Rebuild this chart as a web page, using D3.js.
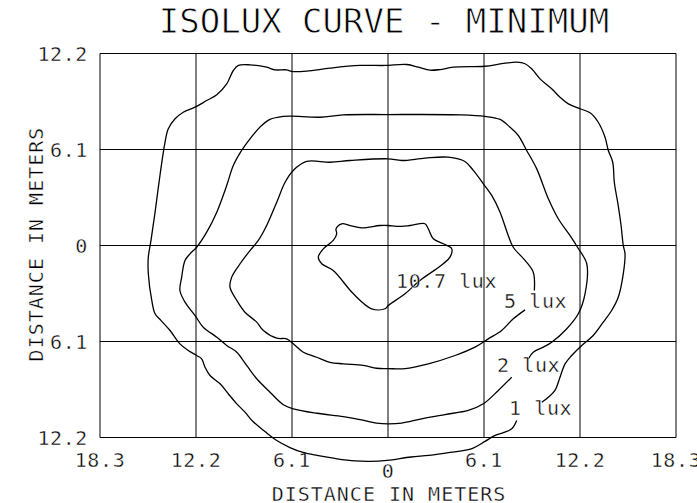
<!DOCTYPE html>
<html>
<head>
<meta charset="utf-8">
<script src="https://cdn.jsdelivr.net/npm/d3@7"></script>
<style>
  body { margin: 0; background: #ffffff; }
  /* thin white edge so the glyphs read as light as the CAD lettering */
  svg text { font-family: "DejaVu Sans Mono", monospace; fill: #000000; stroke: #ffffff; stroke-width: 0.4px; paint-order: fill; }
</style>
</head>
<body>
<div id="chart"></div>
<script>
'use strict';

// tick values (meters) and the labels printed under them
var xTicks = [-18.3, -12.2, -6.1, 0, 6.1, 12.2, 18.3];
var yTicks = [12.2, 6.1, 0, -6.1, -12.2];
var tickLabels = ['18.3', '12.2', '6.1', '0', '6.1', '12.2', '18.3'];
var yTickLabels = ['12.2', '6.1', '0', '6.1', '12.2'];

// isolux contours, [x, y] in meters
var lux1 = [
  [8.18,-11.12],[7.88,-11.63],[7.37,-11.88],[6.74,-12.10],[6.16,-12.45],[5.34,-12.90],[3.94,-13.15],
  [2.61,-13.34],[1.46,-13.44],[-0.06,-13.66],[-1.14,-13.72],[-2.10,-13.69],[-3.37,-13.53],[-4.51,-13.34],
  [-5.40,-13.15],[-6.23,-12.84],[-7.12,-12.36],[-7.82,-11.82],[-8.58,-11.18],[-9.09,-10.59],[-9.61,-10.06],
  [-10.15,-9.42],[-10.67,-8.79],[-11.31,-8.26],[-11.63,-7.73],[-11.84,-7.20],[-12.16,-6.99],[-12.69,-6.67],
  [-13.22,-6.25],[-13.85,-5.40],[-14.42,-4.77],[-14.80,-4.34],[-15.01,-3.49],[-15.23,-1.80],[-15.23,-0.74],
  [-15.06,0.32],[-14.80,2.12],[-14.49,4.45],[-14.17,6.56],[-13.96,7.42],[-13.53,8.05],[-13.01,8.47],
  [-12.26,8.79],[-11.52,9.21],[-10.88,9.58],[-10.25,10.27],[-9.83,11.12],[-9.51,11.44],[-8.77,11.48],
  [-7.71,11.33],[-7.18,11.16],[-6.44,11.16],[-6.12,11.06],[-5.17,11.08],[-3.69,11.27],[-1.78,11.44],
  [-0.19,11.44],[1.19,11.50],[1.93,11.33],[2.67,11.14],[3.30,11.18],[4.15,11.33],[6.16,11.39],
  [7.22,11.55],[8.18,11.65],[8.71,11.55],[9.13,11.23],[9.66,10.59],[10.40,9.96],[10.93,9.42],
  [11.46,9.00],[12.20,8.69],[12.84,8.43],[13.36,7.83],[13.79,6.88],[14.00,6.04],[14.28,5.29],
  [14.38,4.02],[14.63,2.54],[14.81,1.27],[14.95,0],[15.06,-0.53],[14.95,-1.80],[14.63,-3.29],
  [14.21,-4.13],[13.68,-4.87],[13.04,-5.72],[12.31,-6.35],[11.67,-6.99],[11.25,-7.52],[10.93,-8.37],
  [10.61,-9.21],[10.19,-9.64],[9.77,-9.96]
];

var lux2 = [
  [7.86,-8.37],[7.01,-9.21],[6.06,-10.06],[5.10,-10.48],[3.62,-10.74],[2.14,-11.01],[0.87,-11.29],
  [0,-11.34],[-0.72,-11.29],[-1.78,-11.06],[-2.84,-10.87],[-4.53,-10.66],[-6.02,-10.38],[-6.65,-10.12],
  [-7.50,-9.32],[-8.34,-8.47],[-8.98,-7.62],[-9.61,-6.78],[-10.25,-6.35],[-10.88,-5.83],[-11.74,-5.19],
  [-12.26,-4.45],[-12.90,-3.60],[-13.22,-2.86],[-13.11,-2.01],[-12.90,-0.95],[-12.58,-0.53],[-12.16,-0.11],
  [-11.52,0.85],[-10.88,2.12],[-10.25,3.81],[-9.83,5.08],[-9.30,6.04],[-8.77,6.78],[-8.03,7.62],
  [-7.50,8.01],[-6.65,8.20],[-6.12,8.22],[-4.32,8.15],[-2.84,8.30],[0,8.32],[4.68,8.30],[6.16,8.20],
  [7.12,8.01],[7.75,7.52],[8.28,6.99],[8.81,6.04],[9.45,4.87],[10.19,2.97],[10.82,1.70],[11.56,0.64],
  [12.09,-0.19],[12.63,-1.16],[12.52,-3.07],[12.09,-4.34],[11.36,-5.29],[10.40,-6.15],[9.87,-6.46],
  [9.23,-6.78],[8.91,-7.20]
];

var lux5 = [
  [8.71,-4.09],[7.96,-4.66],[7.22,-5.40],[6.37,-5.93],[5.53,-6.46],[4.26,-6.99],[2.56,-7.52],
  [1.08,-7.83],[0,-7.82],[-0.72,-7.80],[-1.57,-7.62],[-2.84,-7.52],[-3.69,-7.42],[-4.53,-7.10],
  [-5.38,-6.78],[-6.02,-6.25],[-6.44,-5.93],[-7.07,-5.89],[-7.92,-5.40],[-8.34,-4.87],[-9.09,-4.24],
  [-9.61,-3.49],[-10.04,-2.65],[-9.93,-2.01],[-9.40,-1.16],[-8.77,-0.32],[-8.24,0.32],[-7.71,1.27],
  [-7.07,2.75],[-6.54,4.02],[-6.02,4.77],[-5.17,5.34],[-3.69,5.29],[-2.41,5.40],[0,5.51],[0.87,5.40],
  [2.35,5.55],[3.83,5.61],[4.89,5.34],[5.42,4.77],[6.06,3.92],[6.59,3.18],[7.12,2.12],[7.64,0.64],
  [7.96,-0.11],[8.71,-0.95],[9.23,-1.70],[9.30,-2.86]
];

var lux107 = [
  [-0.19,-4.02],[-1.04,-4.02],[-2.20,-3.07],[-3.48,-1.59],[-4.21,-1.16],[-4.43,-0.74],[-4.11,-0.21],
  [-3.48,0.32],[-3.26,0.74],[-3.30,1.06],[-2.94,1.38],[-2.41,1.27],[-1.67,1.12],[-0.51,1.27],[0.02,1.27],
  [0.55,1.21],[1.40,1.27],[2.35,1.38],[2.56,1.06],[2.88,0.43],[3.51,0.11],[4.05,-0.21],[3.94,-0.74],
  [3.51,-1.16],[3.09,-1.48],[2.03,-2.22],[1.08,-3.07],[0.02,-3.81]
];

// curve labels and where their text starts
var labelText = ['10.7 lux', '5 lux', '2 lux', '1 lux'];
var labelAt = [[0.51, -2.73], [7.37, -4.0], [6.93, -8.04], [7.69, -10.80]];

var W = 697, H = 503;

var x = d3.scaleLinear().domain([-18.3, 18.3]).range([100, 676]);
var y = d3.scaleLinear().domain([12.2, -12.2]).range([53.5, 437.5]);

var svg = d3.select('#chart').append('svg')
  .attr('width', W)
  .attr('height', H);

svg.append('rect')
  .attr('width', W)
  .attr('height', H)
  .style('fill', '#ffffff');

// title
svg.append('text')
  .attr('x', 384)
  .attr('y', 33)
  .attr('text-anchor', 'middle')
  .style('font-size', '34px')
  .style('stroke-width', '0.8px')
  .text('ISOLUX CURVE - MINIMUM');

// grid: verticals at x ticks, horizontals at y ticks
svg.append('g').selectAll('line')
  .data(xTicks)
  .join('line')
  .attr('x1', function(d) { return x(d); })
  .attr('x2', function(d) { return x(d); })
  .attr('y1', y(12.2))
  .attr('y2', y(-12.2))
  .style('stroke', '#000000')
  .style('stroke-width', '1px');

svg.append('g').selectAll('line')
  .data(yTicks)
  .join('line')
  .attr('x1', x(-18.3))
  .attr('x2', x(18.3))
  .attr('y1', function(d) { return y(d); })
  .attr('y2', function(d) { return y(d); })
  .style('stroke', '#000000')
  .style('stroke-width', '1px');

// tick labels
svg.append('g').selectAll('text')
  .data(yTicks)
  .join('text')
  .attr('x', 88)
  .attr('y', function(d) { return y(d) + 7; })
  .attr('text-anchor', 'end')
  .style('font-size', '20px')
  .style('letter-spacing', '0.6px')
  .text(function(d, i) { return yTickLabels[i]; });

svg.append('g').selectAll('text')
  .data(xTicks)
  .join('text')
  .attr('x', function(d) { return x(d); })
  .attr('y', function(d) { return d === 0 ? 478 : 467; })   // the 0 sits lower
  .attr('text-anchor', 'middle')
  .style('font-size', '20px')
  .style('letter-spacing', '0.6px')
  .text(function(d, i) { return tickLabels[i]; });

// axis titles
svg.append('text')
  .attr('x', 389)
  .attr('y', 501)
  .attr('text-anchor', 'middle')
  .style('font-size', '20px')
  .style('letter-spacing', '1px')
  .text('DISTANCE IN METERS');

svg.append('text')
  .attr('transform', 'translate(43,244) rotate(-90)')
  .attr('text-anchor', 'middle')
  .style('font-size', '20px')
  .style('letter-spacing', '1px')
  .text('DISTANCE IN METERS');

// contours
var line = d3.line()
  .x(function(d) { return x(d[0]); })
  .y(function(d) { return y(d[1]); })
  .curve(d3.curveCatmullRom.alpha(0.5));

var closedLine = d3.line()
  .x(function(d) { return x(d[0]); })
  .y(function(d) { return y(d[1]); })
  .curve(d3.curveCatmullRomClosed.alpha(0.5));

[lux1, lux2, lux5].forEach(function(pts) {
  svg.append('path')
    .attr('d', line(pts))
    .style('fill', 'none')
    .style('stroke', '#000000')
    .style('stroke-width', '1.3px');
});

svg.append('path')
  .attr('d', closedLine(lux107))
  .style('fill', 'none')
  .style('stroke', '#000000')
  .style('stroke-width', '1.3px');

// curve labels
svg.append('g').selectAll('text')
  .data(labelText)
  .join('text')
  .attr('x', function(d, i) { return x(labelAt[i][0]); })
  .attr('y', function(d, i) { return y(labelAt[i][1]); })
  .style('font-size', '20px')
  .style('letter-spacing', '0.6px')
  .text(function(d) { return d; });
</script>
</body>
</html>
